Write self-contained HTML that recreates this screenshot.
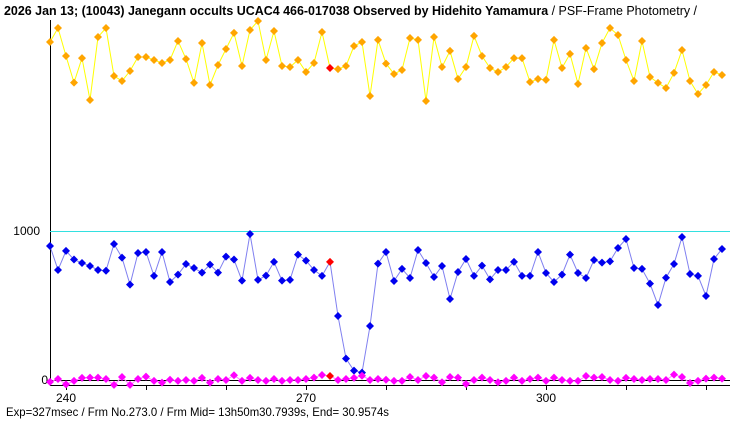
<!DOCTYPE html>
<html><head><meta charset="utf-8"><style>
html,body{margin:0;padding:0;background:#fff;}
svg{display:block;font-family:"Liberation Sans","Noto Sans CJK JP",sans-serif;}
</style></head><body>
<svg id="chart" width="740" height="425" viewBox="0 0 740 425" xmlns="http://www.w3.org/2000/svg">
<text x="4" y="15" font-size="12.5" fill="#000" textLength="693" lengthAdjust="spacingAndGlyphs"><tspan font-weight="bold">2026 Jan 13; (10043) Janegann occults UCAC4 466-017038 Observed by Hidehito Yamamura</tspan> / PSF-Frame Photometry /</text>
<line x1="50.5" y1="20" x2="50.5" y2="385" stroke="#000"/>
<line x1="50" y1="231.5" x2="730" y2="231.5" stroke="#33e0e0"/>
<line x1="50" y1="380.5" x2="730" y2="380.5" stroke="#000"/>
<line x1="50" y1="385.5" x2="730" y2="385.5" stroke="#000"/>
<text x="40" y="235" font-size="12" text-anchor="end">1000</text>
<text x="48" y="384" font-size="12" text-anchor="end">0</text>
<g id="ticks"></g>
<g id="series"></g>
<text x="6" y="416" font-size="12" textLength="383" lengthAdjust="spacingAndGlyphs">Exp=327msec / Frm No.273.0 / Frm Mid= 13h50m30.7939s,  End= 30.9574s</text>
</svg>
<script>
const frameStart = 238;
const highlightFrame = 273;
const tickFrames = [240,250,260,270,280,290,300,310,320];
const tickLabels = ["240","","","270","","","300","",""];
const targetValues = [903,742,870,812,789,769,742,737,917,825,643,856,863,702,863,661,711,782,755,724,778,724,832,812,670,984,675,704,796,670,675,845,805,742,702,796,432,146,65,52,365,785,863,668,749,688,876,789,695,769,547,728,816,702,771,679,742,742,796,702,702,863,722,661,711,845,722,688,809,791,800,890,950,755,749,650,506,690,782,964,715,702,567,816,883];
const compValues = [2275,2369,2181,2002,2167,1885,2309,2369,2046,2013,2080,2174,2174,2154,2134,2154,2282,2161,2000,2268,1986,2120,2228,2336,2114,2356,2416,2154,2349,2114,2107,2154,2073,2134,2342,2100,2093,2114,2248,2275,1912,2289,2130,2060,2087,2302,2289,1878,2309,2107,2215,2026,2107,2316,2181,2100,2073,2107,2167,2167,2006,2026,2020,2289,2100,2195,1993,2235,2093,2268,2369,2322,2154,2013,2282,2040,2000,1966,2067,2221,2013,1925,1986,2073,2053];
const bgValues = [-11,9,-27,-4,16,18,18,9,-31,22,-31,9,25,-4,-16,4,-4,2,-4,16,-16,9,2,34,-4,16,2,-4,9,-4,2,2,9,18,36,29,2,9,16,31,2,9,4,-4,-4,22,2,29,18,-13,22,18,-25,2,18,2,-13,-4,18,-4,9,18,-4,18,2,-4,-4,29,18,22,2,-4,16,9,2,9,9,2,38,22,-18,-4,11,18,11];

const NS="http://www.w3.org/2000/svg";
function xScale(f){return 66+(f-240)*8;}
function yScale(v){return 380.3-v*0.1487;}
const tg=document.getElementById('ticks');
tickFrames.forEach((f,i)=>{
  const l=document.createElementNS(NS,'line');
  l.setAttribute('x1',xScale(f)+0.5);l.setAttribute('x2',xScale(f)+0.5);
  l.setAttribute('y1',385);l.setAttribute('y2',390);l.setAttribute('stroke','#000');
  
  
  tg.appendChild(l);
  if(tickLabels[i]){
    const t=document.createElementNS(NS,'text');
    t.setAttribute('x',xScale(f));t.setAttribute('y',402);
    t.setAttribute('font-size','12');t.setAttribute('text-anchor','middle');
    t.textContent=tickLabels[i];
    
    
    tg.appendChild(t);
  }
});
const sg=document.getElementById('series');
function drawSeries(vals,lineColor,ptColor,name){
  const g=document.createElementNS(NS,'g');
  
  
  const pts=vals.map((v,i)=>xScale(frameStart+i)+','+yScale(v)).join(' ');
  const pl=document.createElementNS(NS,'polyline');
  pl.setAttribute('points',pts);pl.setAttribute('fill','none');
  pl.setAttribute('stroke',lineColor);pl.setAttribute('stroke-width','1');
  
  
  g.appendChild(pl);
  vals.forEach((v,i)=>{
    const f=frameStart+i,x=xScale(f),y=yScale(v);
    const p=document.createElementNS(NS,'polygon');
    p.setAttribute('points',`${x},${y-4} ${x+4},${y} ${x},${y+4} ${x-4},${y}`);
    p.setAttribute('fill',f===highlightFrame?'#ff0000':ptColor);
    
    
    g.appendChild(p);
  });
  sg.appendChild(g);
}
drawSeries(compValues,'#ffff00','#ffa500','comparison-series');
drawSeries(targetValues,'#8080f0','#0000ee','target-series');
drawSeries(bgValues,'#ff80ff','#ff00ff','background-series');
</script>
</body></html>
